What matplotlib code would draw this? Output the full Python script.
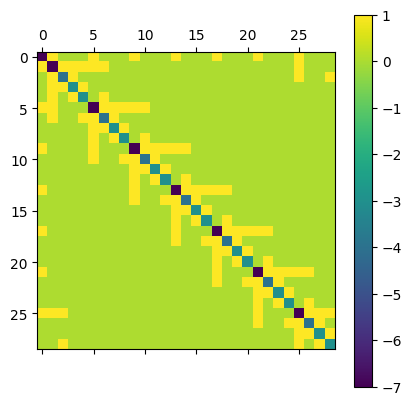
import numpy as np
import matplotlib
matplotlib.use("Agg")
import matplotlib.pyplot as plt

# number of nodes
n_nodes = 29

# edges (each one is a +1 entry, symmetric)
hub_edges = [(0, 1), (0, 5), (0, 9), (0, 13), (0, 17), (0, 21), (0, 25)]
block_edges = [
    (1, 2), (1, 3), (1, 4), (2, 3), (3, 4), (1, 5), (1, 6), (4, 6),
    (5, 6), (5, 7), (5, 8), (6, 7), (7, 8), (5, 9), (5, 10), (8, 10),
    (9, 10), (9, 11), (9, 12), (10, 11), (11, 12), (9, 13), (9, 14), (12, 14),
    (13, 14), (13, 15), (13, 16), (14, 15), (15, 16), (13, 17), (13, 18), (16, 18),
    (17, 18), (17, 19), (17, 20), (18, 19), (19, 20), (17, 21), (17, 22), (20, 22),
    (21, 22), (21, 23), (21, 24), (22, 23), (23, 24), (21, 25), (21, 26), (24, 26),
    (25, 26), (25, 27), (25, 28), (26, 27), (27, 28), (25, 1), (25, 2), (28, 2),
]

# build matrix: +1 off diagonal, -degree on the diagonal
M = np.zeros((n_nodes, n_nodes))
for i, j in hub_edges + block_edges:
    M[i, j] = 1
    M[j, i] = 1
M[np.diag_indices(n_nodes)] = -M.sum(axis=1)

plt.matshow(M)
plt.colorbar()
plt.savefig("out.png", bbox_inches="tight")
